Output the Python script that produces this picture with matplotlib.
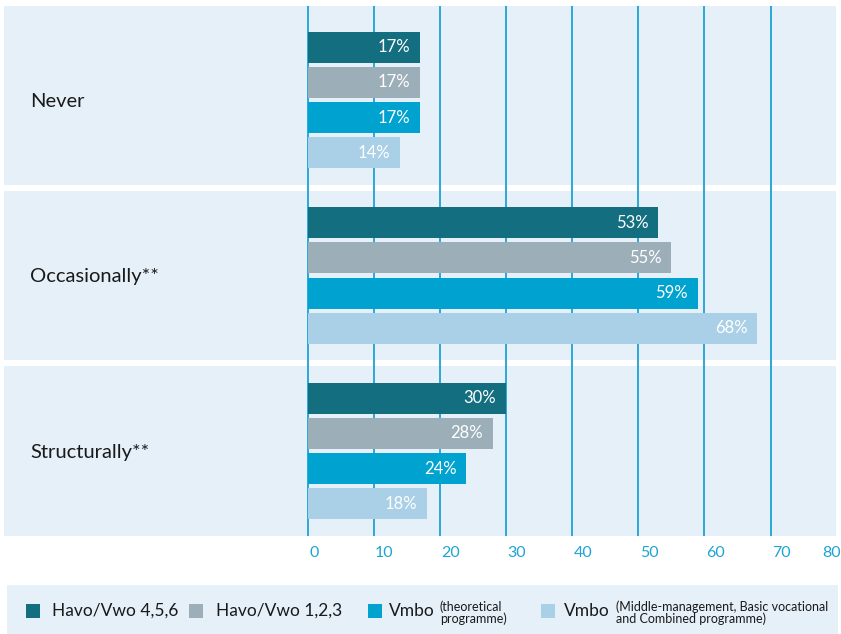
import matplotlib
matplotlib.use("Agg")
import matplotlib.pyplot as plt
from matplotlib.patches import Rectangle
from matplotlib.transforms import blended_transform_factory, ScaledTranslation

plt.rcParams['font.family'] = ['Lato', 'DejaVu Sans']

# ---- data ----
categories = ["Never", "Occasionally**", "Structurally**"]
series_names = ["Havo/Vwo 4,5,6", "Havo/Vwo 1,2,3", "Vmbo", "Vmbo"]
series_notes = ["", "", "(theoretical\nprogramme)",
                "(Middle-management, Basic vocational\nand Combined programme)"]
havo_456 = [17, 53, 30]
havo_123 = [17, 55, 28]
vmbo_theor = [17, 59, 24]
vmbo_other = [14, 68, 18]
values = [havo_456, havo_123, vmbo_theor, vmbo_other]
colors = ["#136e7f", "#9cafb9", "#00a2cf", "#a9d0e6"]
ticks = [0, 10, 20, 30, 40, 50, 60, 70, 80]
gridlines = [0, 10, 20, 30, 40, 50, 60, 70]

W, H = 841, 634
panel_color = "#e5f0f9"
grid_color = "#2ba8d6"
tick_color = "#1ea3d3"

fig = plt.figure(figsize=(W / 100, H / 100), dpi=100)
fig.patch.set_facecolor("white")

def fx(px):
    return px / W

def fy(py):
    return 1 - py / H

# axes covering panel area
ax_left, ax_right = 4, 836
ax_top, ax_bottom = 5.7, 536
ax = fig.add_axes([fx(ax_left), fy(ax_bottom), (ax_right - ax_left) / W,
                   (ax_bottom - ax_top) / H])
ax.set_facecolor("none")
x0_px, scale = 307.5, 6.615
ax.set_xlim((ax_left - x0_px) / scale, (ax_right - x0_px) / scale)
g_c0, g_step = 100.0, 175.5
ax.set_ylim((ax_bottom - g_c0) / g_step, (ax_top - g_c0) / g_step)
for s in ax.spines.values():
    s.set_visible(False)
ax.set_xticks([])
ax.set_yticks([])

# panels
ylo, yhi = ax.get_ylim()[1], ax.get_ylim()[0]
gap = 0.016
edges = [ylo] + [i + 0.5 for i in range(len(categories) - 1)] + [yhi]
xl, xr = ax.get_xlim()
for i in range(len(categories)):
    a = edges[i] + (gap if i > 0 else 0)
    b = edges[i + 1] - (gap if i < len(categories) - 1 else 0)
    ax.add_patch(Rectangle((xl, a), xr - xl, b - a, facecolor=panel_color,
                           edgecolor="none", zorder=0))

# gridlines
for g in gridlines:
    ax.axvline(g, color=grid_color, lw=1.4, zorder=1)

# bars
bar_h = 0.177
pitch = 0.2
n = len(values)
for j, (vals, c) in enumerate(zip(values, colors)):
    ys = [i + (j - (n - 1) / 2) * pitch for i in range(len(categories))]
    bars = ax.barh(ys, vals, height=bar_h, color=c, zorder=2)
    for b, v in zip(bars, vals):
        ax.annotate(f"{v}%", (b.get_width(), b.get_y() + b.get_height() / 2),
                    xytext=(-7, 0), textcoords="offset points",
                    ha="right", va="center", color="white", fontsize=12,
                    zorder=3)

# category labels
tr = blended_transform_factory(ax.transAxes, ax.transData)
for i, cat in enumerate(categories):
    ax.text((30 - ax_left) / (ax_right - ax_left), i + 0.008, cat, transform=tr,
            ha="left", va="center", fontsize=14.5, color="#1a1a1a")

# x tick labels
trx = blended_transform_factory(ax.transData, ax.transAxes)
label_y = -(553 - ax_bottom) / (ax_bottom - ax_top)
for t in ticks:
    if t == ticks[-1]:
        off = ScaledTranslation(4 / 100, 0, fig.dpi_scale_trans)
        ha = "right"
    else:
        off = ScaledTranslation(1.5 / 100, 0, fig.dpi_scale_trans)
        ha = "left"
    ax.text(t, label_y, str(t), transform=trx + off, ha=ha, va="center",
            fontsize=11.5, color=tick_color, clip_on=False)

# legend box
fig.patches.append(Rectangle((fx(7), fy(634)), (838 - 7) / W, (634 - 585) / H,
                             transform=fig.transFigure, facecolor=panel_color,
                             edgecolor="none", zorder=0))
sq_x = [26, 189, 368, 541]
txt_x = [52, 216, 389, 564]
note_x = [None, None, 440, 616]
leg_y = 611
for k in range(len(series_names)):
    fig.patches.append(Rectangle((fx(sq_x[k]), fy(leg_y + 7)), 14 / W, 14 / H,
                                 transform=fig.transFigure, facecolor=colors[k],
                                 edgecolor="none", zorder=1))
    fig.text(fx(txt_x[k]), fy(leg_y), series_names[k], ha="left", va="center",
             fontsize=12.5, color="#1a1a1a")
    if series_notes[k]:
        fig.text(fx(note_x[k]), fy(leg_y + 2), series_notes[k], ha="left",
                 va="center", fontsize=9, color="#1a1a1a", linespacing=0.95)

fig.savefig("out.png", dpi=100)
